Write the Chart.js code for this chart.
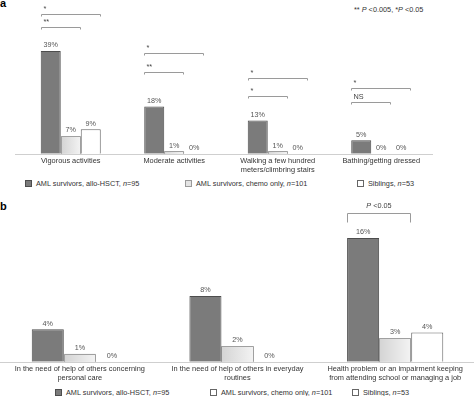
<!DOCTYPE html>
<html>
<head>
<meta charset="utf-8">
<script src="https://cdn.jsdelivr.net/npm/chart.js@4.4.0/dist/chart.umd.min.js"></script>
<style>
	body { margin: 0; background: #fff; }
	#wrap { position: relative; width: 474px; height: 396px; overflow: hidden; font-family: 'Liberation Sans', Arial, sans-serif; color: #333; }
	canvas { position: absolute; left: 0; }
	.txt { position: absolute; white-space: nowrap; font-size: 7.3px; line-height: 9px; }
	.panel { position: absolute; font-weight: bold; font-size: 11px; color: #000; }
	.box { display: inline-block; width: 5px; height: 5px; margin-right: 4px; vertical-align: -0.5px; border: 1px solid #666; }
</style>
</head>
<body>
<div id="wrap">
	<div class="panel" style="left:0;top:-3px">a</div>
	<div class="txt" style="left:354px;top:5px">** <i>P</i> &lt;0.005, *<i>P</i> &lt;0.05</div>
	<canvas id="chartA" width="474" height="178" style="top:0"></canvas>
	<div class="txt" style="left:25px;top:179px"><span class="box" style="background:#7b7b7b;border-color:#4d4d4d"></span>AML survivors, allo-HSCT, <i>n</i>=95</div>
	<div class="txt" style="left:185px;top:179px"><span class="box" style="background:#e4e4e4;border-color:#9a9a9a"></span>AML survivors, chemo only, <i>n</i>=101</div>
	<div class="txt" style="left:357px;top:179px"><span class="box" style="background:#fff"></span>Siblings, <i>n</i>=53</div>

	<div class="panel" style="left:0;top:200px">b</div>
	<canvas id="chartB" width="474" height="186" style="top:200px"></canvas>
	<div class="txt" style="left:55px;top:388px"><span class="box" style="background:#7b7b7b;border-color:#4d4d4d"></span>AML survivors, allo-HSCT, <i>n</i>=95</div>
	<div class="txt" style="left:210px;top:388px"><span class="box" style="background:#fff"></span>AML survivors, chemo only, <i>n</i>=101</div>
	<div class="txt" style="left:352px;top:388px"><span class="box" style="background:#fff"></span>Siblings, <i>n</i>=53</div>
</div>
<script>
// panel a: physical limitations (%)
const categoriesA = [
	['Vigorous activities'],
	['Moderate activities'],
	['Walking a few hundred', 'meters/climbring stairs'],
	['Bathing/getting dressed']
];
const alloA = [39, 18, 12.6, 5.1];
const chemoA = [6.8, 1, 1, 0];
const siblingsA = [9.3, 0, 0, 0];

// panel b: need of help / impairment (%)
const categoriesB = [
	['In the need of help of others concerning', 'personal care'],
	['In the need of help of others in everyday', 'routines'],
	['Health problem or an impairment keeping', 'from attending school or managing a job']
];
const alloB = [4.1, 8.3, 15.6];
const chemoB = [1.0, 2.0, 3.0];
const siblingsB = [0, 0, 3.7];

// significance brackets: category, first and last bar, height (in %), text
const bracketsA = [
	{cat: 0, from: 0, to: 2, level: 53.0, text: '*'},
	{cat: 0, from: 0, to: 1, level: 48.0, text: '**'},
	{cat: 1, from: 0, to: 2, level: 38.1, text: '*'},
	{cat: 1, from: 0, to: 1, level: 31.2, text: '**'},
	{cat: 2, from: 0, to: 2, level: 28.9, text: '*'},
	{cat: 2, from: 0, to: 1, level: 22.0, text: '*'},
	{cat: 3, from: 0, to: 2, level: 25.1, text: '*'},
	{cat: 3, from: 0, to: 1, level: 19.7, text: 'NS'}
];
const bracketsB = [
	{cat: 2, from: 0, to: 1, level: 18.8, text: 'P <0.05'}
];

const FONT = "'Liberation Sans', Arial, sans-serif";

const annotate = {
	id: 'annotate',
	afterDatasetDraw(chart, args) {
		// light grey bars get a horizontal gradient
		if (args.index !== 1) return;
		const ctx = chart.ctx;
		args.meta.data.forEach(bar => {
			const {x, y, base, width} = bar.getProps(['x', 'y', 'base', 'width'], true);
			if (base - y < 0.5) return;
			const left = Math.round(x - width / 2) + 0.5;
			const right = Math.round(x + width / 2) - 0.5;
			const top = Math.round(y) + 0.5;
			const g = ctx.createLinearGradient(left, 0, right, 0);
			g.addColorStop(0, '#d4d4d4');
			g.addColorStop(1, '#f3f3f3');
			ctx.save();
			ctx.fillStyle = g;
			ctx.fillRect(left, top, right - left, base - top);
			ctx.strokeStyle = '#a0a0a0';
			ctx.lineWidth = 1;
			ctx.beginPath();
			ctx.moveTo(left, base);
			ctx.lineTo(left, top);
			ctx.lineTo(right, top);
			ctx.lineTo(right, base);
			ctx.stroke();
			ctx.restore();
		});
	},
	afterDraw(chart, args, opts) {
		const ctx = chart.ctx;
		const area = chart.chartArea;
		const yScale = chart.scales.y;
		ctx.save();

		// baseline
		ctx.strokeStyle = '#cfcfcf';
		ctx.lineWidth = 1;
		ctx.beginPath();
		const by = Math.round(area.bottom) + 0.5;
		ctx.moveTo(opts.lineLeft, by);
		ctx.lineTo(opts.lineRight, by);
		ctx.stroke();

		// value labels
		ctx.font = '7.2px ' + FONT;
		ctx.fillStyle = '#555';
		ctx.textAlign = 'center';
		ctx.textBaseline = 'bottom';
		chart.data.datasets.forEach((ds, i) => {
			chart.getDatasetMeta(i).data.forEach((bar, j) => {
				ctx.fillText(Math.round(ds.data[j]) + '%', bar.x, bar.y - 2);
			});
		});

		// brackets
		ctx.strokeStyle = '#9a9a9a';
		opts.brackets.forEach(b => {
			const b0 = chart.getDatasetMeta(b.from).data[b.cat];
			const b1 = chart.getDatasetMeta(b.to).data[b.cat];
			const x0 = Math.round(b0.x - b0.width / 2) + 0.5;
			const x1 = Math.round(b1.x + b1.width / 2) - 0.5;
			const y = Math.round(yScale.getPixelForValue(b.level)) + 0.5;
			ctx.beginPath();
			ctx.moveTo(x0, y + opts.tick);
			ctx.lineTo(x0, y);
			ctx.lineTo(x1, y);
			ctx.lineTo(x1, y + opts.tick);
			ctx.stroke();

			ctx.fillStyle = '#444';
			ctx.textBaseline = 'alphabetic';
			if (b.text.startsWith('P ')) {
				// italic P followed by the plain rest
				const rest = b.text.slice(1);
				ctx.font = 'italic 7.3px ' + FONT;
				const wp = ctx.measureText('P').width;
				ctx.font = '7.3px ' + FONT;
				const wr = ctx.measureText(rest).width;
				const sx = (x0 + x1) / 2 - (wp + wr) / 2;
				ctx.textAlign = 'left';
				ctx.font = 'italic 7.3px ' + FONT;
				ctx.fillText('P', sx, y - 6);
				ctx.font = '7.3px ' + FONT;
				ctx.fillText(rest, sx + wp, y - 6);
			} else {
				ctx.font = '7.3px ' + FONT;
				ctx.textAlign = 'left';
				ctx.fillText(b.text, x0 + 2, y - 4);
			}
		});
		ctx.restore();
	}
};

function makeChart(id, labels, a, b, c, cfg) {
	return new Chart(document.getElementById(id), {
		type: 'bar',
		data: {
			labels: labels,
			datasets: [
				{label: 'AML survivors, allo-HSCT', data: a, backgroundColor: '#7b7b7b', borderColor: '#4d4d4d', borderWidth: 1},
				{label: 'AML survivors, chemo only', data: b, backgroundColor: '#e4e4e4', borderColor: '#a0a0a0', borderWidth: 1},
				{label: 'Siblings', data: c, backgroundColor: '#ffffff', borderColor: '#666666', borderWidth: 1}
			]
		},
		options: {
			responsive: false,
			animation: false,
			devicePixelRatio: 1,
			categoryPercentage: cfg.catPct,
			barPercentage: 1,
			layout: {padding: cfg.padding},
			scales: {
				x: {
					grid: {display: false, drawTicks: false},
					border: {display: false},
					ticks: {
						color: '#333',
						padding: 3,
						maxRotation: 0,
						autoSkip: false,
						font: {family: FONT, size: 7.4, lineHeight: 1.23}
					}
				},
				y: {display: false, min: 0, max: cfg.max}
			},
			plugins: {
				legend: {display: false},
				tooltip: {enabled: false},
				annotate: {brackets: cfg.brackets, tick: cfg.tick, lineLeft: cfg.lineLeft, lineRight: cfg.lineRight}
			}
		},
		plugins: [annotate]
	});
}

makeChart('chartA', categoriesA, alloA, chemoA, siblingsA, {
	catPct: 0.58, padding: {left: 19, right: 41, top: 0, bottom: 0},
	max: 58.4, brackets: bracketsA, tick: 2, lineLeft: 15, lineRight: 433
});
makeChart('chartB', categoriesB, alloB, chemoB, siblingsB, {
	catPct: 0.61, padding: {left: 1, right: 0, top: 0, bottom: 0},
	max: 20.4, brackets: bracketsB, tick: 9, lineLeft: 0, lineRight: 474
});
</script>
</body>
</html>
